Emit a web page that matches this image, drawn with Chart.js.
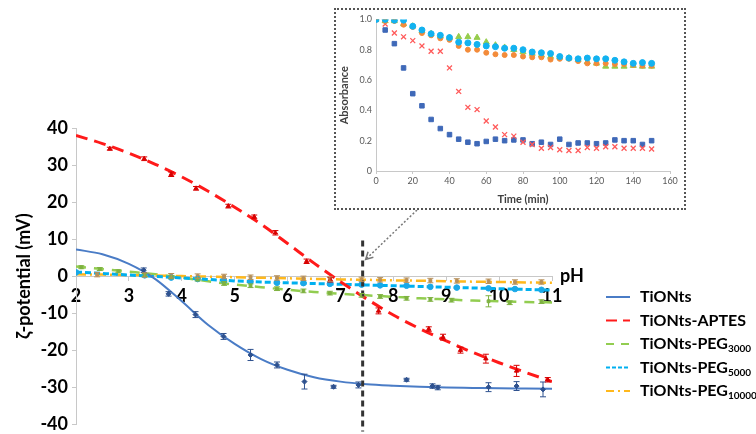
<!DOCTYPE html>
<html>
<head>
<meta charset="utf-8">
<script src="https://cdn.jsdelivr.net/npm/chart.js@4.4.1/dist/chart.umd.min.js"></script>
<style>
  html, body { margin: 0; padding: 0; background: #fff; width: 756px; height: 434px; overflow: hidden; }
  #main { position: absolute; left: 0; top: 0; }
  #insetBox { position: absolute; left: 334px; top: 8px; width: 348px; height: 198px; border: 2px dotted #555; background: #fff; }
  #inset { position: absolute; left: 0; top: 0; }
</style>
</head>
<body>
<canvas id="main" width="756" height="439"></canvas>
<div id="insetBox"><canvas id="inset" width="348" height="198"></canvas></div>
<script>
// fitted curves
const curvePH = [2, 2.5, 3, 3.5, 4, 4.5, 5, 5.5, 6, 6.5, 7, 7.5, 8, 8.5, 9, 9.5, 10, 10.5, 11];
const tiontsCurve = [7.2, 5.9, 3.3, -0.8, -6.8, -13.2, -18.3, -22.4, -25.3, -27.3, -28.5, -29.2, -29.6, -29.9, -30.1, -30.2, -30.3, -30.35, -30.4];
const aptesCurve = [38, 35.8, 33.2, 30.2, 26.8, 22.9, 18.6, 14, 8.8, 3.5, -1.5, -6.2, -10.5, -14.2, -17.5, -20.6, -23.4, -26, -28.5];
const peg3000Curve = [2.6, 1.9, 1.2, 0.5, -0.4, -1.4, -2.3, -3.0, -3.7, -4.3, -4.8, -5.2, -5.6, -6.0, -6.3, -6.6, -6.8, -7.0, -7.1];
const peg5000Curve = [1.1, 0.7, 0.3, -0.1, -0.5, -0.9, -1.3, -1.6, -1.8, -2.0, -2.2, -2.4, -2.6, -2.8, -3.0, -3.2, -3.4, -3.6, -3.8];
const peg10000Curve = [0.5, 0.4, 0.3, 0.15, 0, -0.15, -0.3, -0.45, -0.6, -0.75, -0.9, -1.0, -1.15, -1.25, -1.4, -1.5, -1.6, -1.7, -1.8];

// measured points (pH, zeta, error)
const tiontsPH = [3.28, 3.75, 4.26, 4.79, 5.3, 5.8, 6.32, 6.87, 7.34, 8.25, 8.74, 8.84, 9.8, 10.33, 10.83];
const tiontsZeta = [1.6, -4.8, -10.4, -16.3, -21.3, -24.0, -28.5, -29.9, -29.4, -28.0, -29.7, -30.1, -30.0, -29.7, -30.6];
const tiontsErr = [0.6, 0.6, 0.8, 0.8, 1.5, 0.8, 2.0, 0.4, 0.8, 0.4, 0.6, 0.6, 1.2, 1.2, 2.0];

const aptesPH = [2.64, 3.29, 3.8, 4.27, 4.88, 5.37, 5.77, 6.36, 6.81, 7.72, 8.67, 8.94, 9.27, 9.75, 10.33, 10.92];
const aptesZeta = [34.4, 31.7, 27.5, 23.7, 18.9, 16.0, 11.7, 4.0, -1.0, -9.4, -14.3, -16.5, -20.0, -22.3, -25.6, -28.0];
const aptesErr = [0.4, 0.5, 0.6, 0.5, 0.5, 0.5, 0.6, 0.6, 0.6, 0.8, 0.6, 0.8, 0.8, 1.2, 1.5, 0.6];

const peg3000PH = [2.1, 2.45, 2.8, 3.3, 3.8, 4.3, 4.8, 5.3, 5.8, 6.3, 6.8, 7.4, 7.75, 8.25, 8.7, 9.1, 9.8, 10.2, 10.8];
const peg3000Zeta = [2.4, 1.9, 1.3, 0.3, -0.3, -0.9, -2.0, -2.6, -3.4, -4.0, -4.6, -5.2, -5.5, -6.0, -6.3, -6.5, -6.8, -7.2, -6.9];
const peg3000Err = [0.4, 0.4, 0.4, 0.4, 0.4, 0.4, 0.5, 0.5, 0.5, 0.5, 0.5, 0.5, 0.5, 0.5, 0.5, 0.5, 1.5, 0.5, 0.5];

const peg5000PH = [2.0, 3.3, 3.8, 4.3, 4.8, 5.3, 5.8, 6.3, 6.8, 7.4, 7.75, 8.25, 8.7, 9.2, 9.8, 10.3, 10.8];
const peg5000Zeta = [1.0, 0.2, -0.4, -0.8, -1.3, -1.5, -1.8, -1.9, -2.1, -2.3, -2.5, -2.6, -2.9, -3.1, -3.3, -3.5, -3.7];

const peg10000PH = [2.4, 3.3, 3.8, 4.3, 4.8, 5.3, 5.8, 6.3, 6.8, 7.4, 7.75, 8.25, 8.7, 9.2, 9.8, 10.3, 10.8];
const peg10000Zeta = [0.4, 0.3, 0.1, 0, -0.1, -0.3, -0.5, -0.6, -0.8, -0.9, -1.0, -1.1, -1.2, -1.3, -1.4, -1.6, -1.6];
const peg10000Err = [0.6, 0.6, 0.6, 0.6, 0.6, 0.6, 0.6, 0.6, 0.6, 0.6, 0.6, 0.6, 0.6, 0.6, 0.6, 0.6, 0.6];

const markerPH = 7.42;        // dashed vertical marker
const markerTop = 9.6;

// inset: absorbance vs time
const timeMin = [0, 5, 10, 15, 20, 25, 30, 35, 40, 45, 50, 55, 60, 65, 70, 75, 80, 85, 90, 95, 100, 105, 110, 115, 120, 125, 130, 135, 140, 145, 150];
const absTiONts = [1.0, 0.93, 0.84, 0.68, 0.51, 0.43, 0.34, 0.28, 0.24, 0.21, 0.19, 0.18, 0.195, 0.21, 0.2, 0.205, 0.205, 0.18, 0.19, 0.175, 0.21, 0.175, 0.185, 0.185, 0.18, 0.185, 0.205, 0.2, 0.2, 0.175, 0.2];
const absAPTES = [1.0, 0.97, 0.91, 0.885, 0.86, 0.825, 0.79, 0.79, 0.68, 0.525, 0.42, 0.405, 0.33, 0.29, 0.24, 0.23, 0.19, 0.175, 0.15, 0.155, 0.14, 0.135, 0.135, 0.155, 0.15, 0.16, 0.16, 0.15, 0.15, 0.15, 0.145];
const absPEG3000 = [1.0, 0.99, 0.99, 0.97, 0.955, 0.925, 0.905, 0.89, 0.88, 0.885, 0.885, 0.88, 0.85, 0.83, 0.815, 0.8, 0.785, 0.775, 0.765, 0.755, 0.75, 0.745, 0.735, 0.72, 0.71, 0.69, 0.69, 0.69, 0.695, 0.69, 0.69];
const absPEG5000 = [1.0, 1.0, 0.995, 0.995, 0.955, 0.93, 0.905, 0.895, 0.88, 0.85, 0.845, 0.835, 0.825, 0.82, 0.81, 0.81, 0.8, 0.785, 0.78, 0.775, 0.755, 0.745, 0.74, 0.745, 0.74, 0.74, 0.73, 0.72, 0.71, 0.715, 0.71];
const absPEG10000 = [1.0, 0.99, 0.99, 0.965, 0.95, 0.91, 0.895, 0.875, 0.865, 0.825, 0.8, 0.8, 0.78, 0.77, 0.765, 0.765, 0.755, 0.75, 0.75, 0.735, 0.74, 0.74, 0.725, 0.71, 0.71, 0.71, 0.705, 0.705, 0.7, 0.695, 0.695];

const BLUE = '#4a7cc6', RED = '#ff1a1a', GREEN = '#92cd50', CYAN = '#00b0f0', GOLD = '#ffb81c';

Chart.defaults.font.family = 'Lato';

const pts = (xs, ys) => xs.map((x, i) => ({ x: x, y: ys[i] }));

const legendItems = [
  { text: 'TiONts', sub: '', color: BLUE, dash: [], width: 2 },
  { text: 'TiONts-APTES', sub: '', color: RED, dash: [11, 6], width: 2 },
  { text: 'TiONts-PEG', sub: '3000', color: GREEN, dash: [8, 7], width: 2 },
  { text: 'TiONts-PEG', sub: '5000', color: CYAN, dash: [4, 2], width: 2 },
  { text: 'TiONts-PEG', sub: '10000', color: GOLD, dash: [8, 4, 2, 4], width: 2 }
];

const errorBars = {
  id: 'errorBars',
  afterDatasetsDraw(chart) {
    const { ctx, scales: { x, y } } = chart;
    chart.data.datasets.forEach(ds => {
      if (!ds.errors) return;
      ctx.save();
      ctx.strokeStyle = ds.errorColor;
      ctx.lineWidth = 1;
      ds.data.forEach((p, j) => {
        const e = ds.errors[j];
        if (!e) return;
        const px = x.getPixelForValue(p.x);
        const y1 = y.getPixelForValue(p.y + e), y2 = y.getPixelForValue(p.y - e);
        ctx.beginPath();
        ctx.moveTo(px, y1); ctx.lineTo(px, y2);
        ctx.moveTo(px - 3, y1); ctx.lineTo(px + 3, y1);
        ctx.moveTo(px - 3, y2); ctx.lineTo(px + 3, y2);
        ctx.stroke();
      });
      ctx.restore();
    });
  }
};

const extras = {
  id: 'extras',
  afterDraw(chart) {
    const { ctx, scales: { x, y } } = chart;
    ctx.save();
    // axis name at the end of the x axis
    ctx.fillStyle = '#000';
    ctx.font = 'bold 18px Lato';
    ctx.textAlign = 'center';
    ctx.textBaseline = 'middle';
    ctx.fillText('pH', x.right + 20, y.getPixelForValue(0));

    // pointer from inset to the marker line
    const tx = x.getPixelForValue(markerPH) + 3, ty = y.getPixelForValue(4.5);
    const sx = 417, sy = 210;
    ctx.strokeStyle = '#777';
    ctx.lineWidth = 1.5;
    ctx.setLineDash([2, 2]);
    ctx.beginPath(); ctx.moveTo(sx, sy); ctx.lineTo(tx, ty); ctx.stroke();
    ctx.setLineDash([]);
    const ang = Math.atan2(ty - sy, tx - sx);
    ctx.beginPath();
    ctx.moveTo(tx - 8 * Math.cos(ang - 0.5), ty - 8 * Math.sin(ang - 0.5));
    ctx.lineTo(tx, ty);
    ctx.lineTo(tx - 8 * Math.cos(ang + 0.5), ty - 8 * Math.sin(ang + 0.5));
    ctx.stroke();

    // legend
    legendItems.forEach((it, i) => {
      const ly = 297 + i * 23.5;
      ctx.strokeStyle = it.color;
      ctx.lineWidth = it.width;
      ctx.setLineDash(it.dash);
      ctx.beginPath(); ctx.moveTo(606, ly); ctx.lineTo(630, ly); ctx.stroke();
      ctx.setLineDash([]);
      ctx.fillStyle = '#000';
      ctx.textAlign = 'left';
      ctx.textBaseline = 'middle';
      ctx.font = 'bold 16px Lato';
      ctx.fillText(it.text, 640, ly);
      if (it.sub) {
        const w = ctx.measureText(it.text).width;
        ctx.font = 'bold 10px Lato';
        ctx.fillText(it.sub, 640 + w, ly + 5);
      }
    });
    ctx.restore();
  }
};

const curve = (label, data, color, dash, width, order) => ({
  label: label, data: pts(curvePH, data), showLine: true, borderColor: color,
  borderDash: dash, borderWidth: width, pointRadius: 0, cubicInterpolationMode: 'monotone', order: order
});

const marks = (label, xs, ys, errs, color, style, r, order) => ({
  label: label, data: pts(xs, ys), showLine: false, pointStyle: style, pointRadius: r,
  backgroundColor: color, borderColor: color, borderWidth: 1, errors: errs, errorColor: color, order: order
});

new Chart(document.getElementById('main'), {
  type: 'scatter',
  data: {
    datasets: [
      { label: 'pH 7.4', data: [{ x: markerPH, y: markerTop }, { x: markerPH, y: -42 }], showLine: true,
        borderColor: '#333', borderWidth: 3, borderDash: [6, 4], pointRadius: 0, clip: false, order: -1 },
      marks('TiONts pts', tiontsPH, tiontsZeta, tiontsErr, '#2f528f', 'rectRot', 2.5, 0),
      marks('APTES pts', aptesPH, aptesZeta, aptesErr, '#d80000', 'triangle', 2.5, 1),
      marks('PEG3000 pts', peg3000PH, peg3000Zeta, peg3000Err, '#7fb241', 'rect', 2, 2),
      marks('PEG5000 pts', peg5000PH, peg5000Zeta, null, '#1aa8e8', 'circle', 2.8, 3),
      marks('PEG10000 pts', peg10000PH, peg10000Zeta, peg10000Err, '#b8905a', 'rect', 2, 4),
      curve('TiONts-APTES', aptesCurve, RED, [12, 7], 3, 5),
      curve('TiONts', tiontsCurve, BLUE, [], 2, 6),
      curve('TiONts-PEG5000', peg5000Curve, CYAN, [6, 3], 3, 7),
      curve('TiONts-PEG10000', peg10000Curve, GOLD, [10, 4, 2, 4], 2.5, 8),
      curve('TiONts-PEG3000', peg3000Curve, GREEN, [10, 8], 2.5, 9)
    ]
  },
  options: {
    responsive: false,
    devicePixelRatio: 1,
    animation: false,
    events: [],
    layout: { padding: { left: 0, right: 204, top: 128, bottom: 10 } },
    plugins: { legend: { display: false }, tooltip: { enabled: false } },
    scales: {
      x: {
        type: 'linear', position: { y: 0 }, min: 2, max: 11,
        ticks: { stepSize: 1, color: '#000', font: { size: 18, weight: 'bold' }, padding: 5 },
        grid: { drawOnChartArea: false, tickLength: 4, color: '#c8c8c8' },
        border: { color: '#c8c8c8' }
      },
      y: {
        min: -40, max: 40,
        ticks: { stepSize: 10, color: '#000', font: { size: 18, weight: 'bold' }, padding: 4 },
        grid: { drawOnChartArea: false, tickLength: 4, color: '#c8c8c8' },
        border: { color: '#c8c8c8' },
        title: { display: true, text: 'ζ-potential (mV)', color: '#000', font: { size: 18, weight: 'bold' }, padding: { top: 13, bottom: 0 } },
        afterFit(s) { s.width = 76; }
      }
    }
  },
  plugins: [errorBars, extras]
});

new Chart(document.getElementById('inset'), {
  type: 'scatter',
  data: {
    datasets: [
      { label: 'TiONts', data: pts(timeMin, absTiONts), pointStyle: 'rect', pointRadius: 3.2, backgroundColor: '#3f69b8', borderColor: '#3f69b8', order: 4 },
      { label: 'TiONts-APTES', data: pts(timeMin, absAPTES), pointStyle: 'crossRot', pointRadius: 3.5, borderWidth: 1.3, borderColor: '#ff5a5a', backgroundColor: '#ff5a5a', order: 3 },
      { label: 'TiONts-PEG3000', data: pts(timeMin, absPEG3000), pointStyle: 'triangle', pointRadius: 3.5, backgroundColor: '#96cc4c', borderColor: '#96cc4c', order: 2 },
      { label: 'TiONts-PEG10000', data: pts(timeMin, absPEG10000), pointStyle: 'circle', pointRadius: 2.5, backgroundColor: '#f38b3a', borderColor: '#f38b3a', order: 1 },
      { label: 'TiONts-PEG5000', data: pts(timeMin, absPEG5000), pointStyle: 'circle', pointRadius: 3, backgroundColor: '#12b2f0', borderColor: '#12b2f0', order: 0 }
    ]
  },
  options: {
    responsive: false,
    devicePixelRatio: 1,
    animation: false,
    events: [],
    layout: { padding: { left: 0, right: 14, top: 9, bottom: 0 } },
    plugins: { legend: { display: false }, tooltip: { enabled: false } },
    scales: {
      x: {
        type: 'linear', min: 0, max: 160,
        ticks: { stepSize: 20, color: '#595959', font: { size: 9 }, padding: 2 },
        grid: { drawOnChartArea: false, tickLength: 3, color: '#c8c8c8' },
        border: { color: '#c8c8c8' },
        title: { display: true, text: 'Time (min)', color: '#404040', font: { size: 11, weight: 'bold' }, padding: { top: 0, bottom: 2 } },
        afterFit(s) { s.height = 37; }
      },
      y: {
        min: 0, max: 1,
        ticks: { stepSize: 0.2, color: '#595959', font: { size: 9 }, padding: 4 },
        grid: { drawOnChartArea: false, drawTicks: false, color: '#c8c8c8' },
        border: { color: '#c8c8c8' },
        title: { display: true, text: 'Absorbance', color: '#404040', font: { size: 11, weight: 'bold' }, padding: { top: 2, bottom: 0 } },
        afterFit(s) { s.width = 40; }
      }
    }
  }
});
</script>
</body>
</html>
